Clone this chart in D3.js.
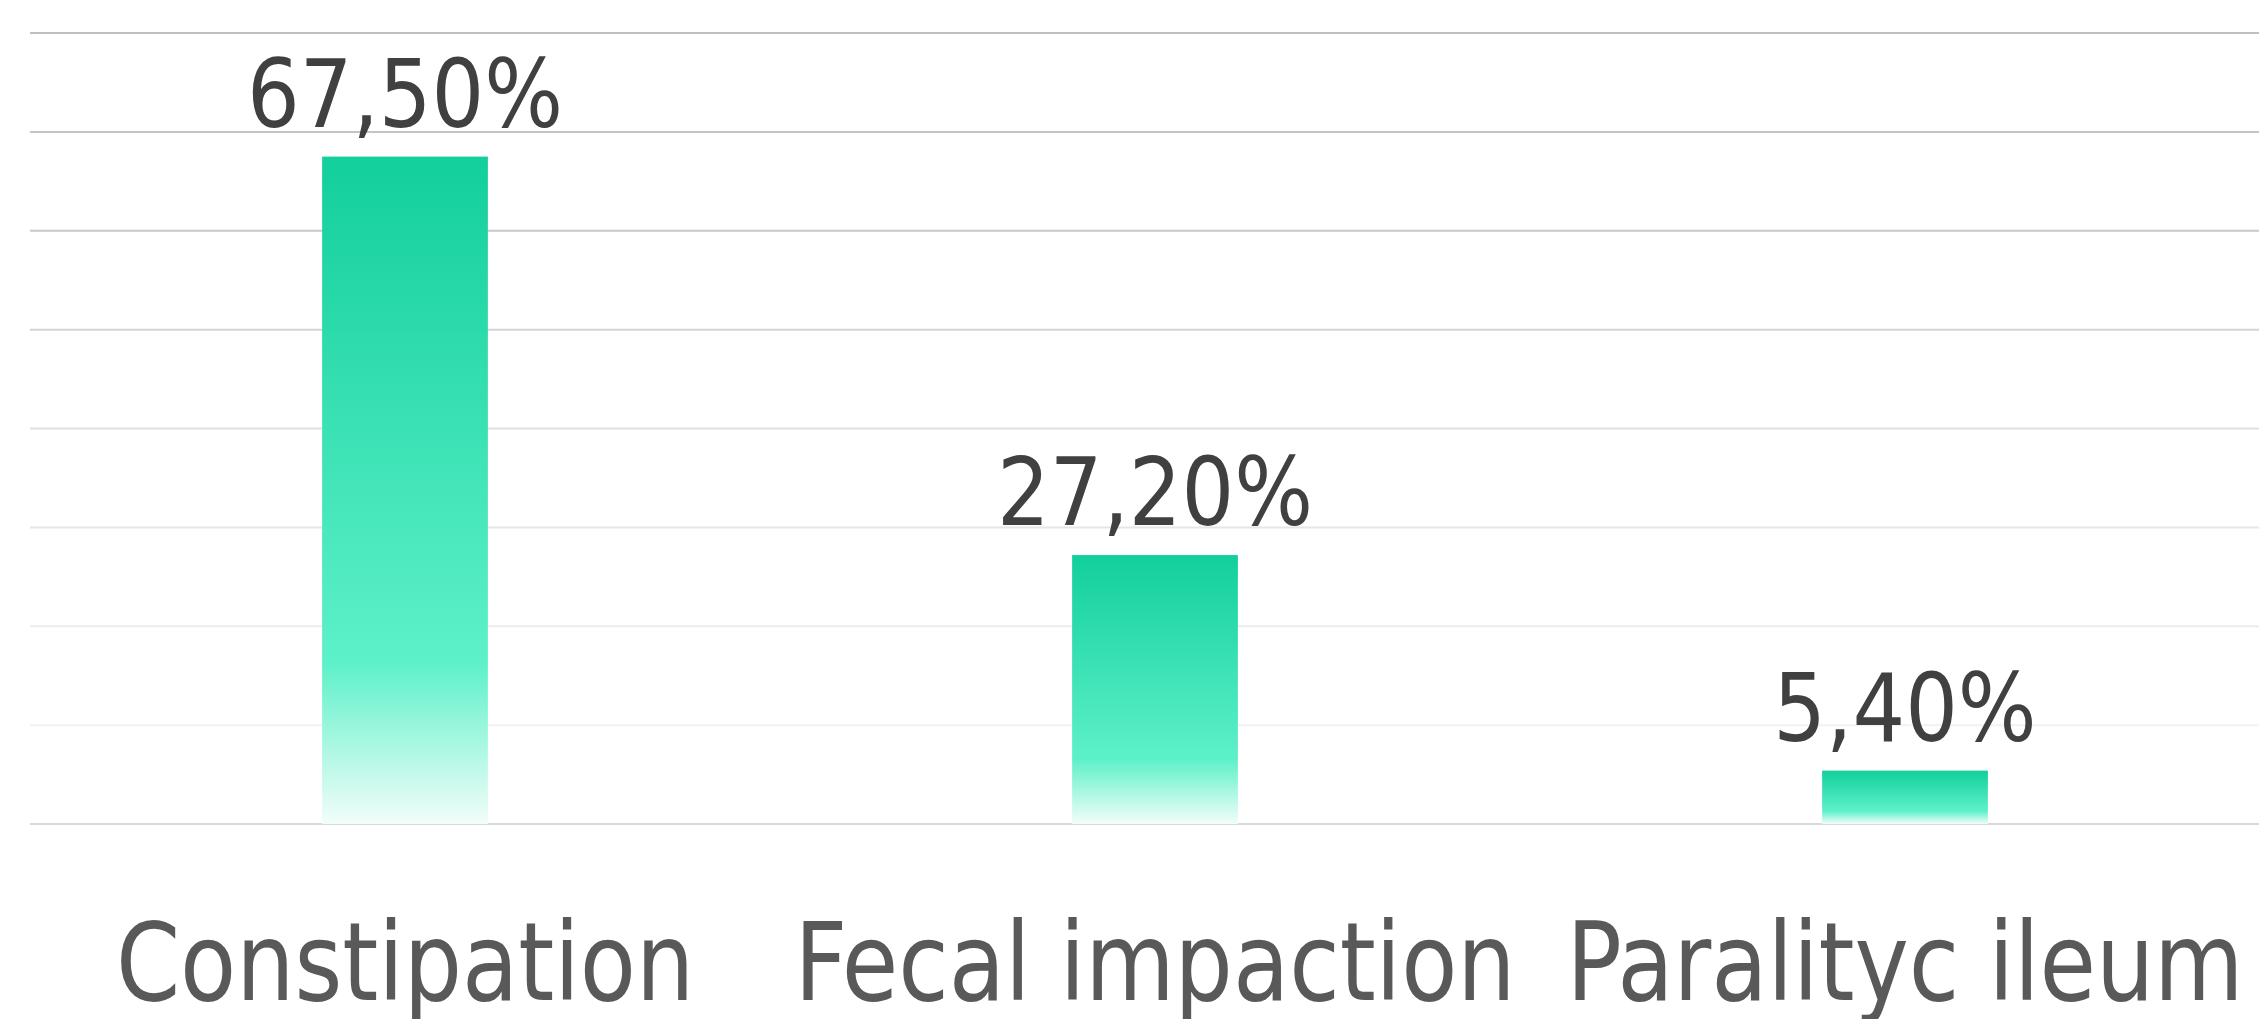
<!DOCTYPE html>
<html>
<head>
<meta charset="utf-8">
<script src="https://cdn.jsdelivr.net/npm/d3@7"></script>
<style>
    html, body { margin: 0; padding: 0; background: #fff; overflow: hidden; }
    text { font-family: "DejaVu Sans Condensed", "DejaVu Sans", sans-serif; }
</style>
</head>
<body>
<div id="chart"></div>
<script>
// chart data
const categories = ['Constipation', 'Fecal impaction', 'Paralityc ileum'];
const values = [67.5, 27.2, 5.4];
const valueLabels = ['67,50%', '27,20%', '5,40%'];
const gridTicks = [0, 10, 20, 30, 40, 50, 60, 70, 80];

const width = 2259;
const height = 1019;

const svg = d3.select('#chart').append('svg')
    .attr('width', width)
    .attr('height', height);

// bar gradient: strong green at top, fades out at the bottom
const defs = svg.append('defs');
const grad = defs.append('linearGradient')
    .attr('id', 'barFill')
    .attr('x1', 0).attr('y1', 0).attr('x2', 0).attr('y2', 1);
grad.append('stop').attr('offset', '0%').attr('stop-color', '#12cf9b');
grad.append('stop').attr('offset', '76%').attr('stop-color', '#5ef1c9');
grad.append('stop').attr('offset', '100%').attr('stop-color', '#f2fdfa');

const x = d3.scaleBand()
    .domain(categories)
    .range([30, 2280])
    .paddingInner(0.779)
    .paddingOuter(0.3895);

const y = d3.scaleLinear()
    .domain([0, 80])
    .range([824, 33]);

// gridlines get lighter towards the bottom
const gridColor = d3.scaleLinear()
    .domain([10, 40, 60, 80])
    .range(['#f2f2f2', '#e0e0e0', '#c8c8c8', '#bfbfbf']);

svg.append('g')
    .selectAll('line')
    .data(gridTicks)
    .enter()
    .append('line')
    .attr('x1', 30)
    .attr('x2', width)
    .attr('y1', d => y(d))
    .attr('y2', d => y(d))
    .attr('stroke', d => d === 0 ? '#d9d9d9' : gridColor(d))
    .attr('stroke-width', 2);

const data = categories.map((c, i) => ({ cat: c, value: values[i], label: valueLabels[i] }));

// bars
svg.append('g')
    .selectAll('rect')
    .data(data)
    .enter()
    .append('rect')
    .attr('x', d => x(d.cat))
    .attr('y', d => y(d.value))
    .attr('width', x.bandwidth())
    .attr('height', d => y(0) - y(d.value))
    .attr('fill', 'url(#barFill)');

// value labels (slightly narrowed, the source font is tall and thin)
svg.append('g')
    .selectAll('text')
    .data(data)
    .enter()
    .append('text')
    .attr('transform', d => `translate(${x(d.cat) + x.bandwidth() / 2},${y(d.value) - 30}) scale(0.97,1)`)
    .attr('text-anchor', 'middle')
    .attr('font-size', 95)
    .attr('fill', '#404040')
    .text(d => d.label);

// category labels
svg.append('g')
    .selectAll('text')
    .data(categories)
    .enter()
    .append('text')
    .attr('transform', d => `translate(${x(d) + x.bandwidth() / 2},1000) scale(0.945,1)`)
    .attr('text-anchor', 'middle')
    .attr('font-size', 108)
    .attr('fill', '#595959')
    .text(d => d);
</script>
</body>
</html>
